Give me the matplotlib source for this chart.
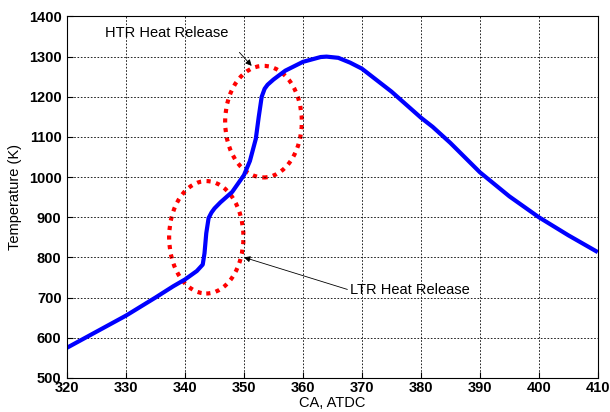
import matplotlib
matplotlib.use('Agg')
import matplotlib.pyplot as plt
from matplotlib.patches import Ellipse
import numpy as np

# crank angle (deg ATDC) and in-cylinder temperature (K)
ca = [320, 325, 330, 335, 338, 340, 342, 343, 343.3, 343.6, 344, 344.5, 345, 346, 348,
      350, 351, 352, 352.5, 353, 353.5, 354, 355, 357, 360, 363, 364, 366, 368, 370,
      375, 380, 382, 385, 390, 395, 400, 405, 410]
temp = [575, 615, 655, 700, 728, 745, 766, 782, 810, 860, 898, 912, 922, 937, 963,
        1005, 1040, 1095, 1150, 1200, 1220, 1230, 1243, 1265, 1287, 1299, 1300, 1297, 1285, 1270,
        1213, 1148, 1125, 1085, 1012, 952, 900, 855, 813]

# regions circled on the plot: (centre x, centre y, width, height)
ltr_ellipse = (343.6, 850, 12.6, 280)
htr_ellipse = (353.3, 1138, 13.0, 278)

plt.rcParams['font.family'] = ['Liberation Sans', 'DejaVu Sans']

fig = plt.figure(figsize=(6.1, 4.12), dpi=100)
ax = fig.add_axes([0.110, 0.083, 0.870, 0.877])

ax.plot(ca, temp, color='#0000ff', linewidth=3, solid_capstyle='butt')

for cx, cy, w, h in [ltr_ellipse, htr_ellipse]:
    e = Ellipse((cx, cy), w, h, fill=False, edgecolor='#ff0000', linewidth=3,
                linestyle=(0, (1, 1.3)))
    ax.add_patch(e)

arrow = dict(arrowstyle='-|>', color='black', lw=0.6, mutation_scale=9)
ax.annotate('HTR Heat Release', xy=(351.3, 1277), xytext=(336.9, 1358),
            fontsize=10.5, ha='center', va='center',
            arrowprops=dict(arrow, shrinkA=9, shrinkB=0, relpos=(1.0, 0.0)))
ax.annotate('LTR Heat Release', xy=(350, 800), xytext=(368, 718),
            fontsize=10.5, ha='left', va='center',
            arrowprops=dict(arrow, shrinkA=0, shrinkB=0, relpos=(0.0, 0.5)))

ax.set_xlim(320, 410)
ax.set_ylim(500, 1400)
ax.set_xticks(np.arange(320, 411, 10))
ax.set_yticks(np.arange(500, 1401, 100))
ax.grid(True, color='black', linestyle=(0, (2, 2)), linewidth=0.6)
ax.tick_params(direction='in', labelsize=10.5, length=4)
ax.tick_params(axis='y', pad=4)
ax.tick_params(axis='x', pad=2)
for lab in ax.get_xticklabels() + ax.get_yticklabels():
    lab.set_fontweight('bold')
for s in ax.spines.values():
    s.set_linewidth(0.8)

ax.set_xlabel('CA, ATDC', fontsize=10.5, labelpad=1)
ax.set_ylabel('Temperature (K)', fontsize=10.5, labelpad=5)

fig.savefig('out.png', dpi=100)
